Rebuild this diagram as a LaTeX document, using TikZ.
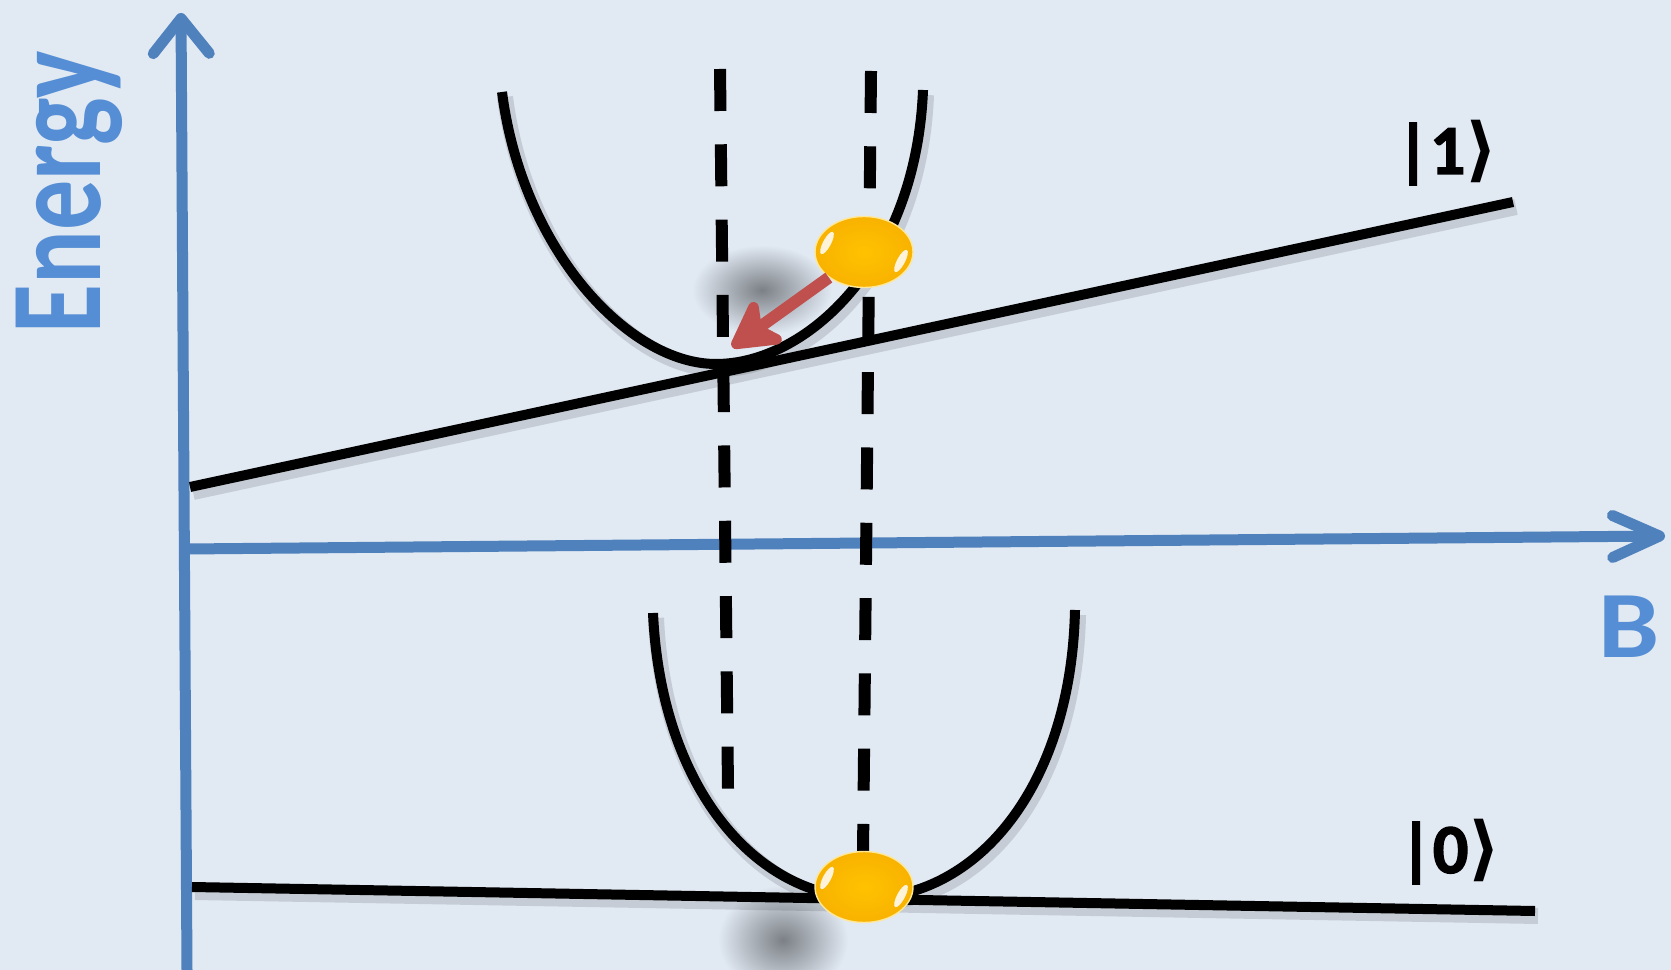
\documentclass[tikz,border=0pt]{standalone}
\usepackage{amsmath}
\usepackage{fontspec}
\setmainfont{Carlito}
\newfontfamily\heavyfont[UprightFeatures={FakeBold=1.8}, BoldFeatures={FakeBold=1.8}]{Carlito}
\newfontfamily\symfont{DejaVu Sans}
\usetikzlibrary{arrows.meta,shapes.geometric}
\definecolor{bgblue}{RGB}{225,233,243}
\definecolor{axisblue}{RGB}{79,129,189}
\definecolor{labelblue}{RGB}{85,142,213}
\definecolor{pushred}{RGB}{192,80,77}
\definecolor{goldball}{RGB}{255,194,0}
\definecolor{goldrim}{RGB}{248,178,0}

\begin{document}
\begin{tikzpicture}[
    x=0.1mm, y=-0.1mm,
    axis/.style={line width=1.1mm, draw=axisblue, line cap=round},
    soft/.style={preaction={draw=black, draw opacity=0.12, line width=1.6mm,
        transform canvas={xshift=0.3mm, yshift=-0.5mm}}},
    level/.style={soft, line width=1mm, draw=black},
    curve/.style={soft, line width=1mm, draw=black},
    guide/.style={line width=1.2mm, draw=black, dash pattern=on 4.2mm off 3.33mm},
    ball/.style={ellipse, minimum width=9.8mm, minimum height=7.1mm, inner sep=0pt,
        draw=white!60!goldball, line width=0.4pt,
        inner color=goldball, outer color=goldrim},
    gloss/.pic={
        \fill[white, opacity=0.85, rotate around={-28:(-37,-9)}] (-37,-9) ellipse (0.4mm and 1.25mm);
        \fill[white, opacity=0.85, rotate around={-28:(37,9)}] (37,9) ellipse (0.4mm and 1.25mm);
    },
    blur/.style={ellipse, inner sep=0pt, inner color=black!45!bgblue, outer color=bgblue},
    ket/.style={font=\fontsize{20}{20}\heavyfont\bfseries},
    push/.style={line width=1.2mm, draw=pushred, -{Stealth[length=5.8mm, width=6.4mm, inset=1.6mm, round]}}
]
\fill[bgblue] (0,0) rectangle (1671,970);
\useasboundingbox (0,0) rectangle (1671,970);

% Shadows
\node[blur, minimum width=14mm, minimum height=9mm] (shadeup) at (762,290) {};
\node[blur, minimum width=13mm, minimum height=11mm] (shadelow) at (783,940) {};

% Axes
\coordinate (ybot) at (187,970);
\coordinate (ytop) at (181,13);
\coordinate (xleft) at (186,549);
\coordinate (xright) at (1665,536);
\draw[axis, -{Straight Barb[length=3.5mm, width=5.6mm, round]}] (ybot) -- (ytop);
\draw[axis, -{Straight Barb[length=4.7mm, width=4.2mm, round]}] (xleft) -- (xright);
\node[rotate=90, text=labelblue, font=\fontsize{28.5}{28.5}\bfseries] (energy) at (69,192) {\scalebox{1}[1.3]{Energy}};
\node[text=labelblue, font=\fontsize{27}{27}\bfseries] (bfield) at (1629,627) {\scalebox{1.15}[1]{B}};

% Dashed guides
\coordinate (g1top) at (720,69);
\coordinate (g1bot) at (728,789);
\coordinate (g2top) at (871,71);
\coordinate (g2bot) at (863,853);
\draw[guide] (g1top) -- (g1bot);
\draw[guide] (g2top) -- (g2bot);

% Energy levels
\coordinate (up0) at (190,487);
\coordinate (up1) at (1513,202);
\coordinate (lo0) at (192,887);
\coordinate (lo1) at (1535,911);
\draw[level] (up0) -- (up1);
\draw[level] (lo0) -- (lo1);
\node[ket] (ketone) at (1447,153) {|1{\symfont\bfseries ⟩}};
\node[ket] (ketzero) at (1450,852) {|0{\symfont\bfseries ⟩}};

% Wells
\coordinate (wellup) at (716,364);
\coordinate (welllow) at (866,898);
\draw[curve, shift={(wellup)}] (-214,-272) .. controls (-194,-115) and (-88,0) .. (0,0)
    .. controls (90,0) and (200,-100) .. (207,-274);
\draw[curve, shift={(welllow)}] (-213,-285) .. controls (-205,-110) and (-110,0) .. (0,0)
    .. controls (110,0) and (205,-110) .. (209,-288);

% Balls
\node[ball] (ballup) at (864,252) {};
\node[ball] (balllow) at (864,887) {};
\pic at (ballup) {gloss};
\pic at (balllow) {gloss};
\coordinate (tip) at (732,347);
\draw[push] (ballup.216) -- (tip);

\end{tikzpicture}
\end{document}
